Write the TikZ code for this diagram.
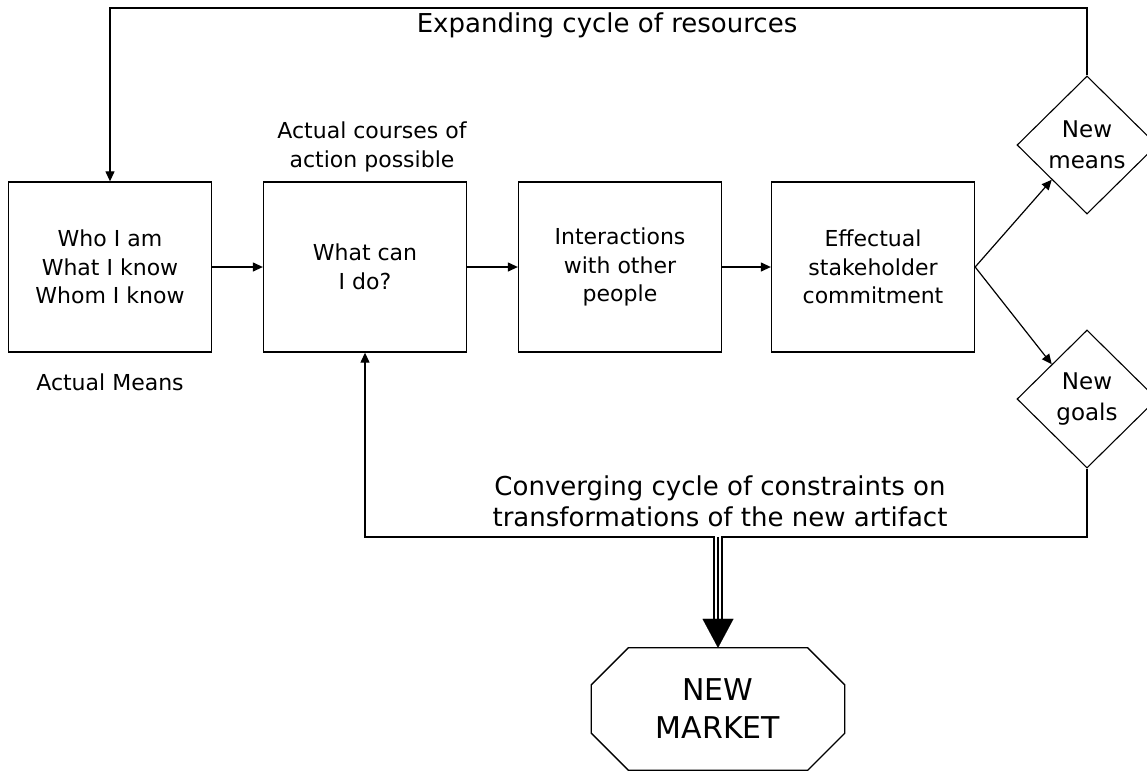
\documentclass[tikz,border=0pt]{standalone}
\usepackage{fontspec}
\setmainfont{DejaVu Sans}
\usetikzlibrary{arrows.meta,shapes.geometric,calc}
\begin{document}
\begin{tikzpicture}[x=1pt,y=-1pt,
  every node/.style={font=\fontsize{22}{28.5}\selectfont, align=center},
  boxnode/.style={draw, line width=1.3pt, minimum width=203pt, minimum height=170pt, inner sep=0pt},
  dia/.style={draw, diamond, line width=1.1pt, minimum width=140pt, minimum height=138pt, inner sep=0pt,
              font=\fontsize{23}{31}\selectfont},
  arr/.style={-{Triangle[length=10pt,width=9pt]}, line width=1.2pt}]
\useasboundingbox (0,0) rectangle (1147,772);
\node[boxnode] (b1) at (110,267) {Who I am\\What I know\\Whom I know};
\node[boxnode] (b2) at (365,267) {What can\\I do?};
\node[boxnode] (b3) at (620,267) {Interactions\\with other\\people};
\node[boxnode] (b4) at (873,267) {Effectual\\stakeholder\\commitment};
\node[dia] (nm) at (1087,145) {New\\means};
\node[dia] (ng) at (1087,399) {New\\goals};
\node (am) at (110,382) {Actual Means};
\node (ac) at (372,147) {Actual courses of\\action possible};
\node[font=\fontsize{26}{30}\selectfont] (exp) at (607,25) {Expanding cycle of resources};
\node[font=\fontsize{26}{31}\selectfont] (conv) at (720,501) {Converging cycle of constraints on\\transformations of the new artifact};
\node[minimum width=253pt, minimum height=122pt, inner sep=0pt,
      font=\fontsize{30}{38}\selectfont] (mk) at (718,709) {NEW\\MARKET};
\draw[line width=1.3pt] ($(mk.north west)+(37,0)$) -- ($(mk.north east)+(-37,0)$)
  -- ($(mk.north east)+(0,37)$) -- ($(mk.south east)+(0,-37)$)
  -- ($(mk.south east)+(-37,0)$) -- ($(mk.south west)+(37,0)$)
  -- ($(mk.south west)+(0,-37)$) -- ($(mk.north west)+(0,37)$) -- cycle;
\coordinate (tl) at (110,8);
\coordinate (tr) at (1087,8);
\coordinate (bl) at (365,537);
\coordinate (br) at (1087,537);
\coordinate (m1) at (718,537);
\draw[arr] (b1) -- (b2);
\draw[arr] (b2) -- (b3);
\draw[arr] (b3) -- (b4);
\draw[arr] (b4.east) -- ($(nm.west)!0.5!(nm.south)$);
\draw[arr] (b4.east) -- ($(ng.west)!0.5!(ng.north)$);
\draw[arr] (nm.north) -- (tr) -- (tl) -- (b1.north);
\draw[arr] (ng.south) -- (br) -- (bl) -- (b2.south);
\draw[line width=10pt, shorten >=27pt] (m1) -- (mk.north);
\draw[line width=6pt, white, shorten >=26pt, shorten <=-1pt] (m1) -- (mk.north);
\draw[line width=2pt, shorten >=26pt] (m1) -- (mk.north);
\draw[-{Triangle[length=29pt,width=31pt]}, line width=0.1pt, shorten <=27pt] (m1) -- (mk.north);
\end{tikzpicture}
\end{document}
